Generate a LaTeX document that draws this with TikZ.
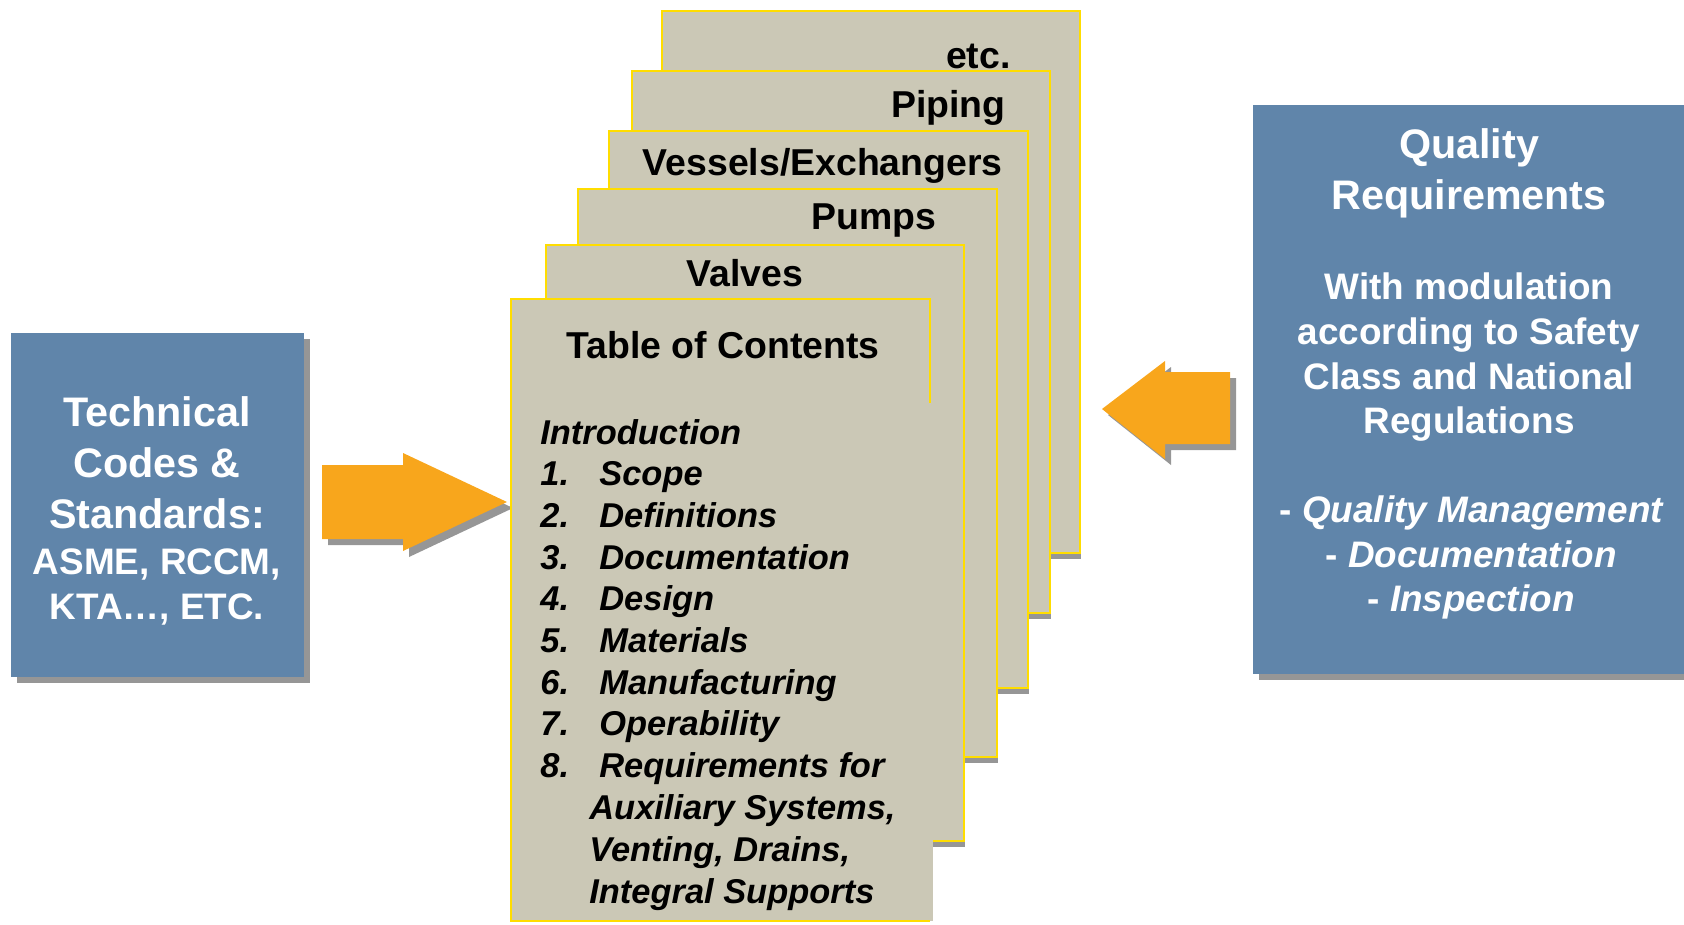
\documentclass[tikz,border=0pt]{standalone}
\usepackage{fontspec}
\setmainfont{Liberation Sans}

\definecolor{boxblue}{RGB}{96,133,170}
\definecolor{pagefill}{RGB}{203,200,182}
\definecolor{pageline}{RGB}{255,221,0}
\definecolor{arroworange}{RGB}{248,166,28}
\definecolor{shadowgray}{RGB}{150,150,150}

\tikzset{
  page/.style={draw=pageline, fill=pagefill, line width=1.2pt},
  bigtxt/.style={anchor=base, text=white, font=\fontsize{23.5}{28}\selectfont\bfseries},
  midtxt/.style={anchor=base, text=white, font=\fontsize{21}{25}\selectfont\bfseries},
  titletxt/.style={anchor=base, font=\fontsize{21.3}{25}\selectfont\bfseries},
  toctxt/.style={anchor=base west, font=\fontsize{19.6}{23}\selectfont\bfseries\itshape},
}

\begin{document}
\begin{tikzpicture}[x=0.02cm,y=-0.02cm, every node/.style={inner sep=0pt}]
\useasboundingbox (0,0) rectangle (1684,924);

% left box
\fill[shadowgray] (17,339) rectangle (310,683);
\fill[boxblue] (11,333) rectangle (304,677);
\node[bigtxt] (tech1) at (157,426) {Technical};
\node[bigtxt] (tech2) at (157,477) {Codes \&};
\node[bigtxt] (tech3) at (157,528) {Standards:};
\node[midtxt] (tech4) at (157,574) {ASME, RCCM,};
\node[midtxt] (tech5) at (157,619) {KTA…, ETC.};

% arrow into the pages
\fill[shadowgray] (328,471)--(409,471)--(409,459)--(513,508)--(409,557)--(409,545)--(328,545)--cycle;
\fill[arroworange] (322,465)--(403,465)--(403,453)--(507,502)--(403,551)--(403,539)--(322,539)--cycle;

% stack of pages
\fill[shadowgray] (662,553) rectangle (1081,559);
\draw[page] (662,11) rectangle (1080,553);
\node[titletxt, anchor=base east] (etc) at (1011,68) {etc.};
\fill[shadowgray] (632,613) rectangle (1051,619);
\draw[page] (632,71) rectangle (1050,613);
\node[titletxt, anchor=base east] (piping) at (1006,117) {Piping};
\fill[shadowgray] (609,688) rectangle (1029,694);
\draw[page] (609,131) rectangle (1028,688);
\node[titletxt, anchor=base east] (vessels) at (1003,175) {Vessels/Exchangers};
\fill[shadowgray] (578,757) rectangle (998,763);
\draw[page] (578,189) rectangle (997,757);
\node[titletxt, anchor=base east] (pumps) at (937,229) {Pumps};
\fill[shadowgray] (546,841) rectangle (965,847);
\draw[page] (546,245) rectangle (964,841);
\node[titletxt] (valves) at (745,286) {Valves};

% front page
\fill[pagefill] (511,299) rectangle (930,921);
\fill[pagefill] (930,403) rectangle (933,921);
\draw[pageline, line width=1.2pt] (930,403)--(930,299)--(511,299)--(511,921)--(930,921);
\node[titletxt] (toc) at (723,358) {Table of Contents};
\node[toctxt] (intro) at (540,444) {Introduction};
\foreach \t [count=\i] in {Scope, Definitions, Documentation, Design, Materials, Manufacturing, Operability, Requirements for}{
  \node[toctxt] (num\i) at (540,{444+41.7*\i}) {\i.};
  \node[toctxt] (item\i) at (599,{444+41.7*\i}) {\t};
}
\node[toctxt] (cont1) at (589,819) {Auxiliary Systems,};
\node[toctxt] (cont2) at (589,861) {Venting, Drains,};
\node[toctxt] (cont3) at (589,903) {Integral Supports};

% arrow from the right box
\fill[shadowgray] (1108,415)--(1171,367)--(1171,378)--(1236,378)--(1236,450)--(1171,450)--(1171,465)--cycle;
\fill[arroworange] (1102,409)--(1165,361)--(1165,372)--(1230,372)--(1230,444)--(1165,444)--(1165,459)--cycle;

% right box
\fill[shadowgray] (1259,111) rectangle (1690,680);
\fill[boxblue] (1253,105) rectangle (1684,674);
\node[bigtxt] (qual1) at (1469,158) {Quality};
\node[bigtxt] (qual2) at (1469,209) {Requirements};
\node[midtxt] (mod1) at (1469,299) {With modulation};
\node[midtxt] (mod2) at (1469,344) {according to Safety};
\node[midtxt] (mod3) at (1469,389) {Class and National};
\node[midtxt] (mod4) at (1469,433) {Regulations};
\node[midtxt] (list1) at (1472,522) {- \textit{Quality Management}};
\node[midtxt] (list2) at (1471,567) {- \textit{Documentation}};
\node[midtxt] (list3) at (1471,611) {- \textit{Inspection}};
\end{tikzpicture}
\end{document}
